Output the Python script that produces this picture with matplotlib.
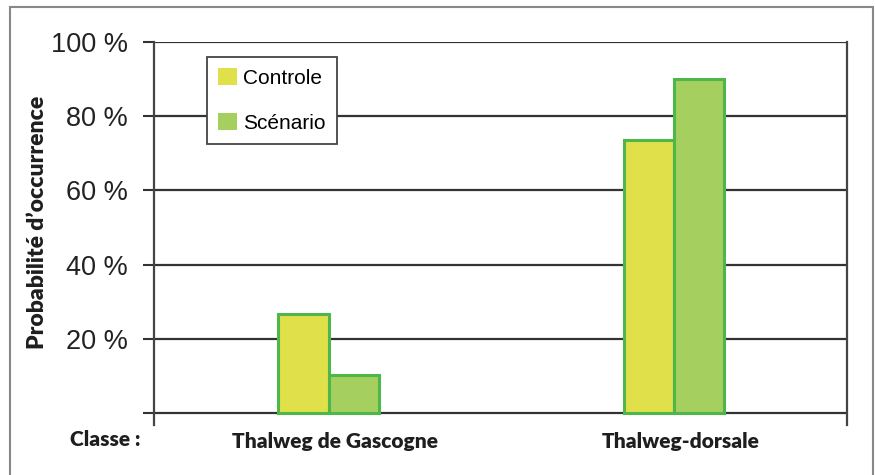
import matplotlib.pyplot as plt
import numpy as np
from matplotlib.patches import Patch, Rectangle

# Data
categories = ['Thalweg de Gascogne', 'Thalweg-dorsale']
controle = [26.7, 73.6]
scenario = [10.2, 90.0]
series_names = ['Controle', 'Scénario']
yticks = [0, 20, 40, 60, 80, 100]
ytick_labels = ['', '20 %', '40 %', '60 %', '80 %', '100 %']

COL_CONTROLE = '#e0e04a'
COL_SCENARIO = '#a5cf5f'
COL_EDGE = '#4db849'
GRID_COL = '#333333'
TXT_COL = '#1e1e1e'

fig = plt.figure(figsize=(8.75, 4.75), dpi=100)
ax = fig.add_axes([154 / 875, 50 / 475, (847 - 154) / 875, (425 - 42) / 475])

x = np.arange(len(categories))
w = 0.145
ax.bar(x - w / 2, controle, w, color=COL_CONTROLE, edgecolor=COL_EDGE, linewidth=2.2, zorder=3)
ax.bar(x + w / 2, scenario, w, color=COL_SCENARIO, edgecolor=COL_EDGE, linewidth=2.2, zorder=3)

ax.set_xlim(-0.505, 1.5)
ax.set_ylim(-3.2, 100)
ax.set_yticks(yticks)
ax.set_yticklabels(ytick_labels, fontsize=19.5, family='Liberation Sans', color='#222222')
ax.tick_params(axis='y', length=8, width=1.5, color=GRID_COL, pad=11)
ax.set_xticks([])
ax.yaxis.grid(True, color=GRID_COL, linewidth=1.6)
ax.set_axisbelow(True)

for s in ['top', 'bottom']:
    ax.spines[s].set_visible(False)
for s in ['left', 'right']:
    ax.spines[s].set_color('#444444')
    ax.spines[s].set_linewidth(1.6)

# category labels below the axis
for xi, name in zip(x, categories):
    ax.text(xi + 0.02, -5.2, name, ha='center', va='top', fontsize=15,
            family='Lato', fontweight='heavy', color=TXT_COL)
fig.text(70 / 875, 1 - 440 / 475, 'Classe :', ha='left', va='center', fontsize=15,
         family='Lato', fontweight='heavy', color=TXT_COL)
fig.text(38 / 875, 1 - 222 / 475, 'Probabilité d\u2019occurrence', rotation=90, ha='center',
         va='center', fontsize=16.5, family='Lato', fontweight='heavy', color=TXT_COL)

handles = [Patch(facecolor=COL_CONTROLE, edgecolor='none'),
           Patch(facecolor=COL_SCENARIO, edgecolor='none')]
leg = fig.legend(handles, series_names, loc='upper left', bbox_to_anchor=(207 / 875, 1 - 57 / 475),
                 borderaxespad=0, prop={'family': 'Liberation Sans', 'size': 15},
                 handlelength=0.87, handleheight=0.87, handletextpad=0.3, labelspacing=1.2,
                 borderpad=0.55, fancybox=False, framealpha=1)
leg.get_frame().set_edgecolor('#444444')
leg.get_frame().set_linewidth(1.3)

# outer frame
fig.patches.append(Rectangle((10 / 875, -0.05), (873 - 10) / 875, 1.05 - 7 / 475,
                             transform=fig.transFigure, fill=False, edgecolor='#888888',
                             linewidth=1.5))

fig.savefig('out.png', dpi=100)
